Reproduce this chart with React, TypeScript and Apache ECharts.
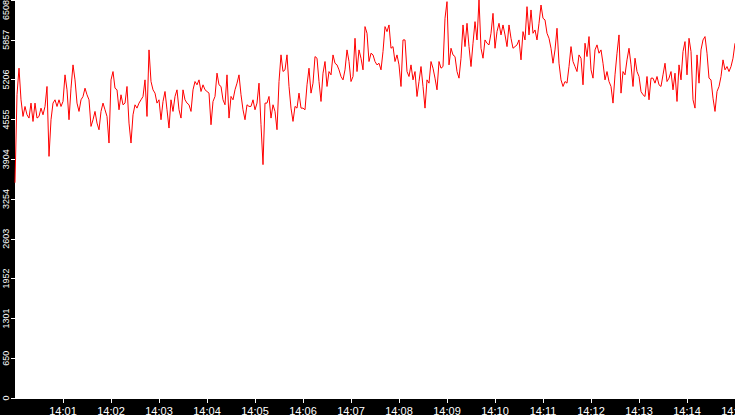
import { useEffect, useRef } from "react";
import * as echarts from "echarts";

// one sample every 2.5 s, from 14:00:00 to 14:15:00
const STEP_SECONDS = 2.5;

const X_LABELS = [
  "14:00", "14:01", "14:02", "14:03", "14:04", "14:05", "14:06", "14:07",
  "14:08", "14:09", "14:10", "14:11", "14:12", "14:13", "14:14", "14:15",
];

const Y_MAX = 6508;
const Y_STEP = 650.8;

// 14:00:00 - 14:03:50
const seg1 = [
  3520, 4960, 5393, 4876, 4604, 4767, 4631, 4577, 4822, 4522,
  4822, 4577, 4604, 4740, 4631, 4767, 5094, 3951, 4550, 4822,
  4876, 4767, 4876, 4767, 4849, 5284, 5039, 4550, 5066, 5447,
  5202, 4822, 4686, 4876, 4930, 5066, 4958, 4876, 4441, 4550,
  4686, 4495, 4386, 4686, 4822, 4713, 4604, 4169, 5202, 5338,
  5066, 5039, 4713, 4958, 4794, 4822, 5094, 4495, 4169, 4631,
  4794, 4740, 4822, 4876, 4930, 5202, 4604, 5692, 5175, 5039,
  4985, 4822, 4876, 4550, 4849, 5012, 4713, 4414, 4876, 4686,
  4930, 5039, 4713, 4577, 5039, 4876, 4822, 4794, 4686, 5039,
  5175, 5121, 5202,
];

// 14:03:52 - 14:05:55
const seg2 = [
  5012, 5121, 5040, 5012, 4985, 4468, 4849, 4931, 5312, 5121,
  5094, 4876, 4795, 5284, 4577, 4931, 4876, 5040, 5148, 5284,
  4958, 4713, 4550, 4795, 4768, 4768, 4876, 4713, 4822, 5148,
  4468, 3816, 4822, 4822, 4931, 4577, 4795, 4686, 4387, 5176,
  5611, 5339, 5366, 5611, 5094, 4740, 4523, 4768, 4740, 4985,
];

// 14:05:57 - 14:08:07
const seg3 = [
  4740, 4740, 4713, 5121, 5393, 4985, 5148, 5583, 5556, 5175,
  4849, 5311, 5502, 5094, 5338, 5284, 5610, 5474, 5447, 5366,
  5257, 5202, 5366, 5692, 5502, 5175, 5257, 5882, 5338, 5692,
  5556, 5366, 6073, 5964, 5502, 5638, 5610, 5502, 5447, 5474,
  5366, 5665, 6073, 5991, 6100, 5719, 5746, 5502, 5610, 5447,
  5094, 5855, 5855,
];

// 14:08:10 - 14:10:17
const seg4 = [
  5338, 5257, 5447, 5202, 5338, 4930, 5175, 5420, 5094, 4740,
  5202, 5148, 5502, 5393, 5230, 5039, 5502, 5393, 5420, 6209,
  6481, 5447, 5719, 5610, 5583, 5338, 5230, 5556, 6100, 5746,
  6127, 5746, 5420, 5801, 6154, 5855, 6508, 5719, 5556, 5855,
  5801, 5774, 5964, 6290, 5719, 5991, 6127, 5937, 6100, 5937,
  5746, 6100,
];

// 14:10:20 - 14:12:35
const seg5 = [
  5882, 5719, 5746, 5774, 5855, 5529, 5991, 5855, 6399, 5937,
  6345, 5964, 6018, 5855, 6127, 6426, 6209, 6182, 5964, 5882,
  5719, 5474, 5692, 6046, 5474, 5202, 5094, 5175, 5148, 5420,
  5746, 5502, 5420, 5338, 5610, 5556, 5121, 5801, 5583, 5910,
  5366, 5230, 5692, 5774, 5638, 5692, 5474, 5202, 5338, 5175,
  5094, 4822, 5284, 5638, 5937,
];

// 14:12:37 - 14:15:00
const seg6 = [
  4985, 5338, 5284, 5529, 5719, 5447, 5094, 5556, 5338, 5257,
  5012, 4958, 4930, 5257, 4876, 5230, 5230, 5148, 5257, 5121,
  5094, 5284, 5474, 5175, 5230, 5338, 5039, 5311, 4849, 5447,
  5202, 5665, 5828, 5284, 5882, 5665, 4876, 4740, 5610, 5148,
  5692, 5855, 5910, 5638, 5230, 5202, 4903, 4686, 5012, 5094,
  5257, 5529, 5366, 5420, 5338, 5420, 5556, 5801,
];

const values = [...seg1, ...seg2, ...seg3, ...seg4, ...seg5, ...seg6];

export default function App() {
  const chartRef = useRef<HTMLDivElement | null>(null);

  useEffect(() => {
    if (!chartRef.current) return;
    const chart = echarts.init(chartRef.current, undefined, { renderer: "svg" });
    chart.setOption({
      animation: false,
      backgroundColor: "#000",
      grid: {
        left: 15,
        right: 0,
        top: 0,
        bottom: 17,
        show: true,
        backgroundColor: "#fff",
        borderWidth: 0,
        outerBoundsMode: "none",
      },
      xAxis: {
        type: "value",
        min: 0,
        max: 900,
        interval: 60,
        axisLine: { lineStyle: { color: "#fff", width: 1 } },
        axisTick: { length: 5, lineStyle: { color: "#fff" } },
        splitLine: { show: false },
        axisLabel: {
          color: "#fff",
          fontFamily: "Liberation Sans",
          fontSize: 11,
          margin: 7,
          showMinLabel: false,
          formatter: (v: number) => X_LABELS[Math.round(v / 60)],
        },
      },
      yAxis: {
        type: "value",
        min: 0,
        max: Y_MAX,
        interval: Y_STEP,
        axisLine: { show: false },
        axisTick: { show: true, length: 4, lineStyle: { color: "#fff" } },
        splitLine: { show: false },
        axisLabel: {
          color: "#fff",
          fontFamily: "Liberation Sans",
          fontSize: 9,
          rotate: 90,
          margin: 5,
          alignMaxLabel: "right",
          formatter: (v: number) => String(Math.floor(v + 1e-6)),
        },
      },
      series: [
        {
          type: "line",
          data: values.map((v, i) => [i * STEP_SECONDS, v]),
          showSymbol: false,
          symbol: "none",
          lineStyle: { color: "#ff0000", width: 1 },
          itemStyle: { color: "#ff0000" },
        },
      ],
    });
    return () => chart.dispose();
  }, []);

  return (
    <div
      ref={chartRef}
      style={{ position: "fixed", left: 0, top: 0, width: 735, height: 415 }}
    />
  );
}
